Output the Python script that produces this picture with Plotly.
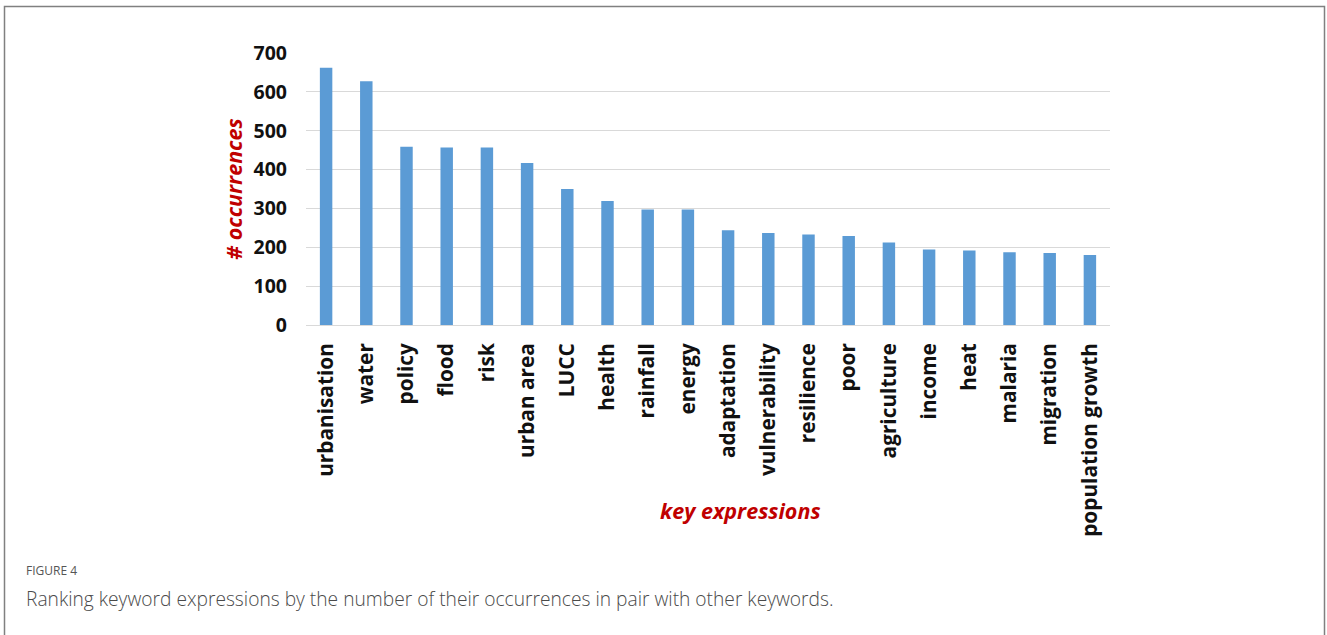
import plotly.graph_objects as go

categories = ["urbanisation", "water", "policy", "flood", "risk", "urban area", "LUCC",
              "health", "rainfall", "energy", "adaptation", "vulnerability", "resilience",
              "poor", "agriculture", "income", "heat", "malaria", "migration",
              "population growth"]
occurrences = [662, 627, 459, 457, 457, 417, 350, 319, 297, 297, 244, 237, 233, 229,
               212, 194, 192, 187, 185, 180]
y_ticks = [0, 100, 200, 300, 400, 500, 600, 700]

W, H = 1327, 635
L, R, T, B = 306, 1110, 53, 325.5

def px(x):
    return (x - L) / (R - L)

def py(y):
    return (B - y) / (B - T)

fig = go.Figure()
fig.add_trace(go.Bar(x=categories, y=occurrences, marker=dict(color="#5B9BD5", line=dict(width=0)),
                     hoverinfo="x+y"))

DARKRED = "#C00000"
fig.update_layout(
    width=W, height=H,
    margin=dict(l=L, r=W - R, t=T, b=H - B, pad=0),
    paper_bgcolor="white", plot_bgcolor="white",
    bargap=0.69,
    showlegend=False,
    font=dict(family="Open Sans", color="#000"),
    xaxis=dict(
        type="category", range=[-0.5, len(categories) - 0.5],
        tickangle=-90, tickfont=dict(family="Open Sans", size=20.8, color="#111", weight="bold"),
        showgrid=False, showline=False, ticks="", ticklabelstandoff=13,
        zeroline=False,
    ),
    yaxis=dict(
        range=[0, 700], tickvals=y_ticks,
        tickfont=dict(family="Open Sans", size=19.5, color="#111", weight="bold"),
        showgrid=True, gridcolor="#d9d9d9", gridwidth=1,
        zeroline=True, zerolinecolor="#d9d9d9", zerolinewidth=1,
        showline=False, ticks="", ticklabelstandoff=18,
    ),
    shapes=[
        dict(type="rect", xref="paper", yref="paper",
             x0=px(4.5), x1=px(1324.5), y0=py(640), y1=py(6.5),
             line=dict(color="#808080", width=1.5), fillcolor="rgba(0,0,0,0)", layer="below"),
    ],
    annotations=[
        dict(text="<b><i># occurrences</i></b>", xref="paper", yref="paper",
             x=px(234), y=py(190), textangle=-90, showarrow=False,
             font=dict(family="Open Sans", size=21.5, color=DARKRED),
             xanchor="center", yanchor="middle"),
        dict(text="<b><i>key expressions</i></b>", xref="paper", yref="paper",
             x=px(740), y=py(511), showarrow=False,
             font=dict(family="Open Sans", size=21.5, color=DARKRED),
             xanchor="center", yanchor="middle"),
        dict(text="FIGURE 4", xref="paper", yref="paper",
             x=px(24), y=py(571), showarrow=False, xanchor="left", yanchor="middle",
             font=dict(family="Open Sans", size=12, color="#555")),
        dict(text="Ranking keyword expressions by the number of their occurrences in pair with other keywords.",
             xref="paper", yref="paper",
             x=px(24), y=py(600), showarrow=False, xanchor="left", yanchor="middle",
             font=dict(family="Open Sans", size=19.2, color="#4a4a4a", weight=300)),
    ],
)

fig.write_html("out.html", config={"displayModeBar": False},
               post_script="document.body.style.margin='0';document.body.style.overflow='hidden';")
